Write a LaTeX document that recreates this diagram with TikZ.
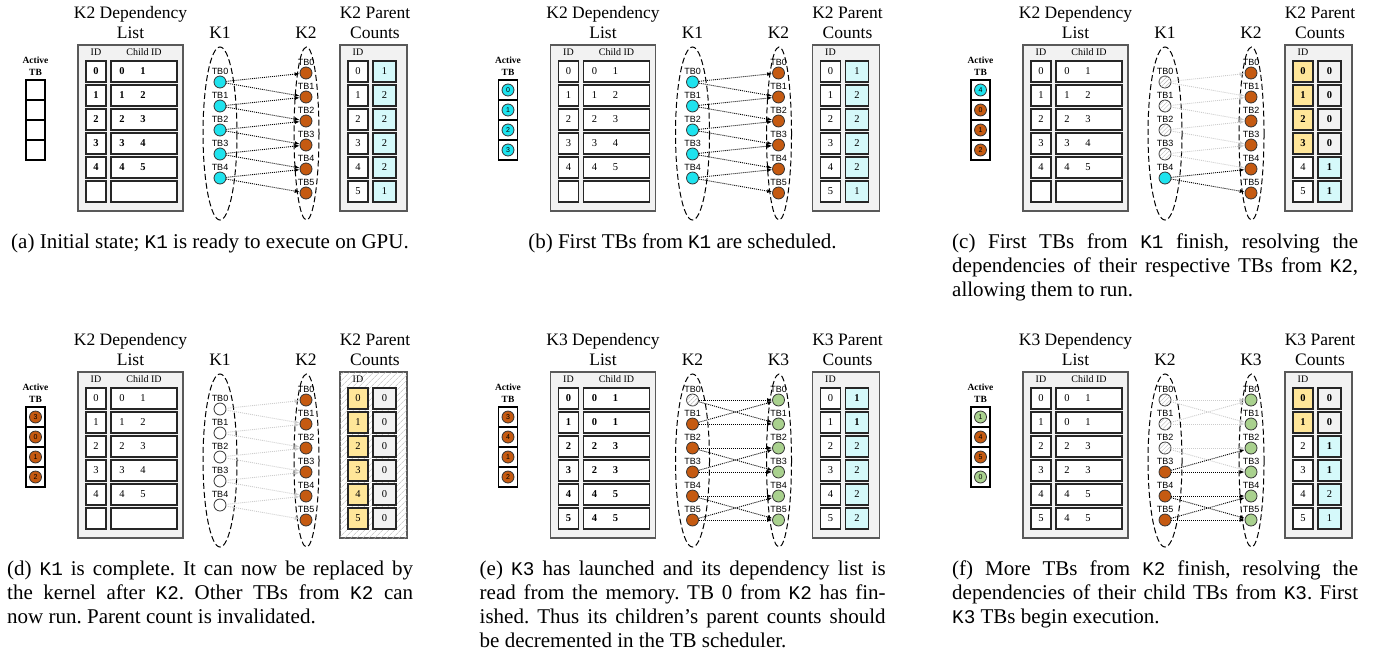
\documentclass[tikz,border=0pt]{standalone}
\usepackage{fontspec}
\setmainfont{Liberation Serif}
\setsansfont{Liberation Sans}
\setmonofont[Scale=0.92]{Liberation Mono}
\usetikzlibrary{arrows.meta}
\usetikzlibrary{patterns.meta}

\definecolor{kcyan}{HTML}{1EE3EE}
\definecolor{korange}{HTML}{C55A11}
\definecolor{kgreen}{HTML}{A9D18E}
\definecolor{cellcyan}{HTML}{D5F9FA}
\definecolor{cellyel}{HTML}{FFE699}
\definecolor{cellgray}{HTML}{F2F2F2}

\begin{document}
\begin{tikzpicture}[x=1pt,y=-1pt]
\tikzstyle{ttl} = [font=\fontsize{17.5}{20}\selectfont, align=center, inner sep=0]
\tikzstyle{klbl} = [font=\fontsize{17.5}{20}\selectfont, inner sep=0]
\tikzstyle{hdr} = [font=\fontsize{10}{10}\selectfont, inner sep=0]
\tikzstyle{panel} = [draw=black!65, fill=cellgray, line width=1.2pt]
\tikzstyle{panelx} = [draw=black!65, fill=white, line width=1.2pt,
  postaction={pattern={Lines[angle=45,distance=4pt,line width=0.5pt]}, pattern color=gray!55}]
\tikzstyle{cell} = [draw=black!85, line width=1.2pt, fill=white, minimum height=21pt,
  inner sep=0, font=\fontsize{10.5}{10.5}\selectfont]
\tikzstyle{idcell} = [cell, minimum width=20pt]
\tikzstyle{chcell} = [cell, minimum width=66pt]
\tikzstyle{cntcell} = [cell, minimum width=23pt]
\tikzstyle{num} = [font=\fontsize{10.5}{10.5}\selectfont, inner sep=0]
\tikzstyle{actttl} = [font=\fontsize{9.5}{12}\selectfont\bfseries, align=center, inner sep=0]
\tikzstyle{actcell} = [draw=black, line width=1.2pt, fill=white, minimum width=19pt,
  minimum height=20pt, inner sep=0]
\tikzstyle{actdot} = [circle, draw=black!80, line width=0.8pt, minimum size=12pt,
  inner sep=0, font=\fontsize{7}{7}\sffamily]
\tikzstyle{tb} = [circle, draw=black!80, line width=0.8pt, minimum size=12pt, inner sep=0]
\tikzstyle{tbready} = [fill=kcyan]
\tikzstyle{tbwait} = [fill=korange]
\tikzstyle{tbnext} = [fill=kgreen]
\tikzstyle{tbgone} = [fill=white]
\tikzstyle{tbdone} = [fill=white,
  postaction={pattern={Lines[angle=45,distance=3pt,line width=0.4pt]}, pattern color=gray!55}]
\tikzstyle{tbl} = [font=\fontsize{9}{9}\sffamily, inner sep=0]
\tikzstyle{grp} = [line width=1pt, dash pattern=on 6pt off 3pt]
\tikzstyle{dep} = [line width=0.9pt, dash pattern=on 1pt off 1pt, -{Latex[length=5pt,width=4pt]}]
\tikzstyle{olddep} = [dep, draw=black!20]
\tikzstyle{capt} = [font=\fontsize{21}{24}\selectfont\frenchspacing, text width=406pt, align=justify,
  inner sep=0, anchor=north west]
\tikzstyle{capt1} = [font=\fontsize{21}{24}\selectfont\frenchspacing, inner sep=0, anchor=north]

% active TB column
\def\actslots#1{%
  \node[actttl] (#1-actttl) at (35.5,66) {Active\\TB};
  \foreach \k in {0,...,3}
    \node[actcell] (#1-slot\k) at (35.5,{90+20*\k}) {};
}
\def\actrun#1#2{%
  \foreach \c/\n [count=\k from 0] in {#2}
    \node[actdot,fill=\c] (#1-run\k) at (#1-slot\k) {\n};
}
% dependency list: prefix, kernel, number font, rows id/child/child
\def\deptable#1#2#3#4{%
  \node[ttl] (#1-dttl) at (130.5,23) {#2 Dependency\\List};
  \draw[panel] (78,45) rectangle (183,211);
  \node[hdr] (#1-dhid) at (96,52.5) {ID};
  \node[hdr] (#1-dhch) at (144,52.5) {Child ID};
  \foreach \k in {0,...,5} {
    \node[idcell] (#1-did\k) at (96,{71.5+24*\k}) {};
    \node[chcell] (#1-dch\k) at (144,{71.5+24*\k}) {};
  }
  \foreach \i/\p/\q [count=\k from 0] in {#4} {
    \node[num] (#1-dnum\k) at (#1-did\k) {#3\i};
    \node[num] (#1-dcp\k) at (122,{71.5+24*\k}) {#3\p};
    \node[num] (#1-dcq\k) at (143,{71.5+24*\k}) {#3\q};
  }
}
% parent counts: prefix, box style, kernel, rows idfill/id/countfill/count
\def\cnttable#1#2#3#4{%
  \node[ttl] (#1-pttl) at (375,23) {#3 Parent\\Counts};
  \draw[#2] (340,45) rectangle (407,211);
  \node[hdr] (#1-phid) at (358,52.5) {ID};
  \foreach \f/\i/\g/\n [count=\k from 0] in {#4} {
    \node[idcell,fill=\f] (#1-pid\k) at (358,{71.5+24*\k}) {\i};
    \node[cntcell,fill=\g] (#1-pcnt\k) at (384.5,{71.5+24*\k}) {\n};
  }
}
% the two kernels
\def\kpair#1#2#3{%
  \node[klbl] (#1-kl) at (220,33) {#2};
  \node[klbl] (#1-kr) at (306,33) {#3};
  \draw[grp] (220,133.5) ellipse (17 and 86.5);
  \draw[grp] (306.5,133.5) ellipse (12.5 and 86.5);
}
\def\ltbs#1#2#3{%
  \foreach \s [count=\k from 0] in {#3} {
    \node[tb,\s] (#1-l\k) at (220,{#2+24*\k}) {};
    \node[tbl] (#1-ll\k) at (220,{#2-10.5+24*\k}) {TB\k};
  }
}
\def\rtbs#1#2#3{%
  \foreach \s [count=\k from 0] in {#3} {
    \node[tb,\s] (#1-r\k) at (306,{#2+24*\k}) {};
    \node[tbl] (#1-rl\k) at (306,{#2-10.5+24*\k}) {TB\k};
  }
}
\def\deps#1#2#3{%
  \foreach \s/\t in {#3}
    \draw[#2] (#1-l\s) -- (#1-r\t);
}

\useasboundingbox (0,0) rectangle (1373,654);

% (a)
\begin{scope}
\actslots{pa}
\deptable{pa}{K2}{\bfseries}{0/0/1,1/1/2,2/2/3,3/3/4,4/4/5}
\kpair{pa}{K1}{K2}
\ltbs{pa}{82}{tbready,tbready,tbready,tbready,tbready}
\rtbs{pa}{73}{tbwait,tbwait,tbwait,tbwait,tbwait,tbwait}
\deps{pa}{dep}{0/0,0/1,1/1,1/2,2/2,2/3,3/3,3/4,4/4,4/5}
\cnttable{pa}{panel}{K2}{white/0/cellcyan/1,white/1/cellcyan/2,white/2/cellcyan/2,
  white/3/cellcyan/2,white/4/cellcyan/2,white/5/cellcyan/1}
\node[capt1] (pa-cap) at (210,234) {(a) Initial state; \texttt{K1} is ready to execute on GPU.};
\end{scope}

% (b)
\begin{scope}[shift={(472.5,0)}]
\actslots{pb}
\actrun{pb}{kcyan/0,kcyan/1,kcyan/2,kcyan/3}
\deptable{pb}{K2}{}{0/0/1,1/1/2,2/2/3,3/3/4,4/4/5}
\kpair{pb}{K1}{K2}
\ltbs{pb}{82}{tbready,tbready,tbready,tbready,tbready}
\rtbs{pb}{73}{tbwait,tbwait,tbwait,tbwait,tbwait,tbwait}
\deps{pb}{dep}{0/0,0/1,1/1,1/2,2/2,2/3,3/3,3/4,4/4,4/5}
\cnttable{pb}{panel}{K2}{white/0/cellcyan/1,white/1/cellcyan/2,white/2/cellcyan/2,
  white/3/cellcyan/2,white/4/cellcyan/2,white/5/cellcyan/1}
\node[capt1] (pb-cap) at (210,234) {(b) First TBs from \texttt{K1} are scheduled.};
\end{scope}

% (c)
\begin{scope}[shift={(945,0)}]
\actslots{pc}
\actrun{pc}{kcyan/4,korange/0,korange/1,korange/2}
\deptable{pc}{K2}{}{0/0/1,1/1/2,2/2/3,3/3/4,4/4/5}
\kpair{pc}{K1}{K2}
\ltbs{pc}{82}{tbdone,tbdone,tbdone,tbdone,tbready}
\rtbs{pc}{73}{tbwait,tbwait,tbwait,tbwait,tbwait,tbwait}
\deps{pc}{olddep}{0/0,0/1,1/1,1/2,2/2,2/3,3/3,3/4}
\deps{pc}{dep}{4/4,4/5}
\cnttable{pc}{panel}{K2}{cellyel/\textbf{0}/cellgray/\textbf{0},cellyel/\textbf{1}/cellgray/\textbf{0},
  cellyel/\textbf{2}/cellgray/\textbf{0},cellyel/\textbf{3}/cellgray/\textbf{0},
  white/4/cellcyan/\textbf{1},white/5/cellcyan/\textbf{1}}
\node[capt] (pc-cap) at (7,234) {(c) First TBs from \texttt{K1} finish, resolving the\linebreak
  dependencies of their respective TBs from \texttt{K2},\linebreak allowing them to run.};
\end{scope}

% (d)
\begin{scope}[shift={(0,327)}]
\actslots{pd}
\actrun{pd}{korange/3,korange/0,korange/1,korange/2}
\deptable{pd}{K2}{}{0/0/1,1/1/2,2/2/3,3/3/4,4/4/5}
\kpair{pd}{K1}{K2}
\ltbs{pd}{82}{tbgone,tbgone,tbgone,tbgone,tbgone}
\rtbs{pd}{73}{tbwait,tbwait,tbwait,tbwait,tbwait,tbwait}
\deps{pd}{olddep}{0/0,0/1,1/1,1/2,2/2,2/3,3/3,3/4,4/4,4/5}
\cnttable{pd}{panelx}{K2}{cellyel/0/cellgray/0,cellyel/1/cellgray/0,cellyel/2/cellgray/0,
  cellyel/3/cellgray/0,cellyel/4/cellgray/0,cellyel/5/cellgray/0}
\node[capt] (pd-cap) at (7,234) {(d) \texttt{K1} is complete. It can now be replaced by\linebreak
  the kernel after \texttt{K2}. Other TBs from \texttt{K2} can\linebreak now run. Parent count is invalidated.};
\end{scope}

% (e)
\begin{scope}[shift={(472.5,327)}]
\actslots{pe}
\actrun{pe}{korange/3,korange/4,korange/1,korange/2}
\deptable{pe}{K3}{\bfseries}{0/0/1,1/0/1,2/2/3,3/2/3,4/4/5,5/4/5}
\kpair{pe}{K2}{K3}
\ltbs{pe}{73}{tbdone,tbwait,tbwait,tbwait,tbwait,tbwait}
\rtbs{pe}{73}{tbnext,tbnext,tbnext,tbnext,tbnext,tbnext}
\deps{pe}{dep}{0/0,0/1,1/0,1/1,2/2,2/3,3/2,3/3,4/4,4/5,5/4,5/5}
\cnttable{pe}{panel}{K3}{white/0/cellcyan/\textbf{1},white/1/cellcyan/\textbf{1},white/2/cellcyan/2,
  white/3/cellcyan/2,white/4/cellcyan/2,white/5/cellcyan/2}
\node[capt] (pe-cap) at (7,234) {(e) \texttt{K3} has launched and its dependency list is\linebreak
  read from the memory. TB 0 from \texttt{K2} has fin-\linebreak ished. Thus its children's parent counts should\linebreak
  be decremented in the TB scheduler.};
\end{scope}

% (f)
\begin{scope}[shift={(945,327)}]
\actslots{pf}
\actrun{pf}{kgreen/1,korange/4,korange/5,kgreen/0}
\deptable{pf}{K3}{}{0/0/1,1/0/1,2/2/3,3/2/3,4/4/5,5/4/5}
\kpair{pf}{K2}{K3}
\ltbs{pf}{73}{tbdone,tbdone,tbdone,tbwait,tbwait,tbwait}
\rtbs{pf}{73}{tbnext,tbnext,tbnext,tbnext,tbnext,tbnext}
\deps{pf}{olddep}{0/0,0/1,1/0,1/1,2/2,2/3}
\deps{pf}{dep}{3/2,3/3,4/4,4/5,5/4,5/5}
\cnttable{pf}{panel}{K3}{cellyel/\textbf{0}/cellgray/\textbf{0},cellyel/\textbf{1}/cellgray/\textbf{0},
  white/2/cellcyan/\textbf{1},white/3/cellcyan/\textbf{1},white/4/cellcyan/2,white/5/cellcyan/1}
\node[capt] (pf-cap) at (7,234) {(f) More TBs from \texttt{K2} finish, resolving the\linebreak
  dependencies of their child TBs from \texttt{K3}. First\linebreak \texttt{K3} TBs begin execution.};
\end{scope}
\end{tikzpicture}
\end{document}
